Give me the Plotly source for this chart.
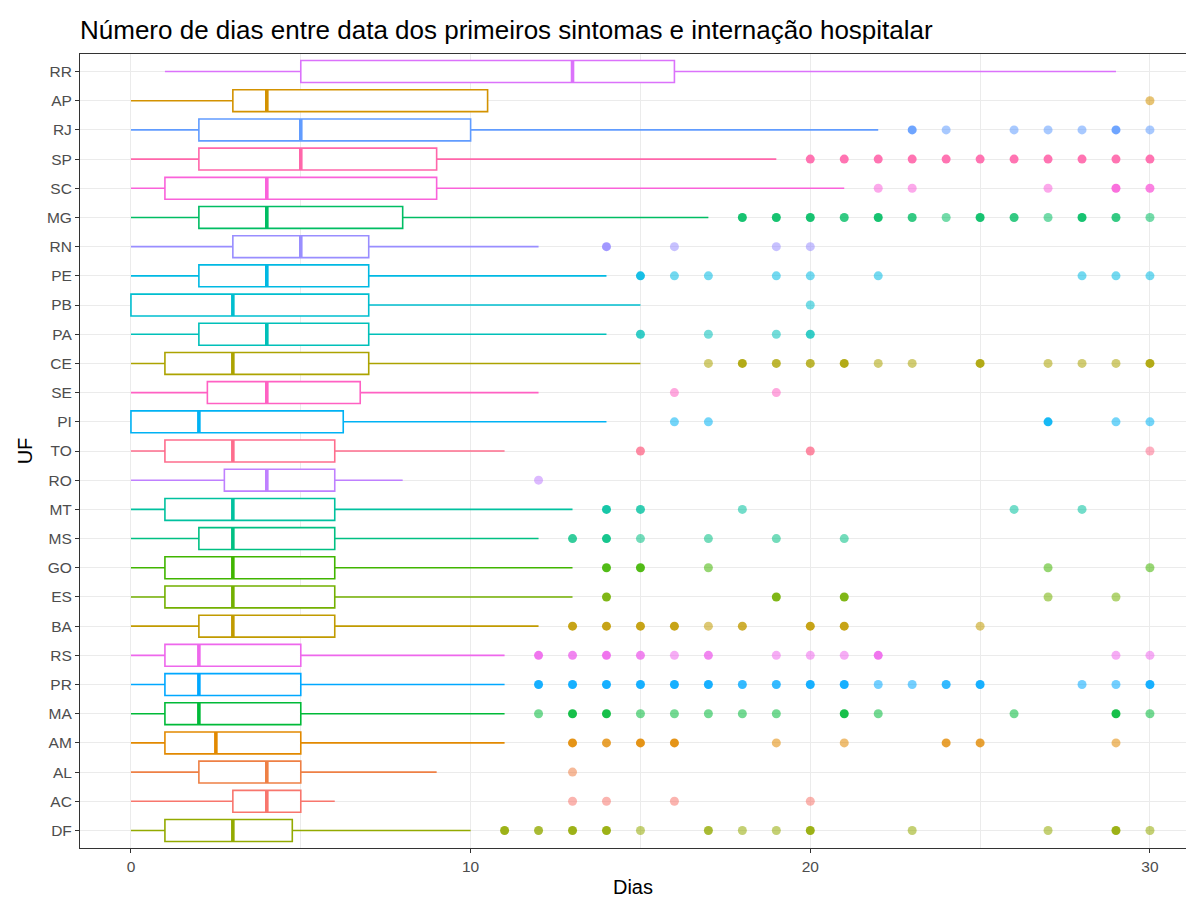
import numpy as np
import plotly.graph_objects as go

# Unidades federativas, de baixo para cima no eixo
UF = ["DF", "AC", "AL", "AM", "MA", "PR", "RS", "BA", "ES", "GO", "MS", "MT", "RO", "TO",
      "PI", "SE", "CE", "PA", "PB", "PE", "RN", "MG", "SC", "SP", "RJ", "AP", "RR"]

# Estatísticas dos boxplots (dias)
LIM_INF = [0, 0, 0, 0, 0, 0, 0, 0, 0, 0, 0, 0, 0, 0, 0, 0, 0, 0, 0, 0, 0, 0, 0, 0, 0, 0, 1]
Q1      = [1, 3, 2, 1, 1, 1, 1, 2, 1, 1, 2, 1, 2.75, 1, 0, 2.25, 1, 2, 0, 2, 3, 2, 1, 2, 2, 3, 5]
MEDIANA = [3, 4, 4, 2.5, 2, 2, 2, 3, 3, 3, 3, 3, 4, 3, 2, 4, 3, 4, 3, 4, 5, 4, 4, 5, 5, 4, 13]
Q3      = [4.75, 5, 5, 5, 5, 5, 5, 6, 6, 6, 6, 6, 6, 6, 6.25, 6.75, 7, 7, 7, 7, 7, 8, 9, 9, 10, 10.5, 16]
LIM_SUP = [10, 6, 9, 11, 11, 11, 11, 12, 13, 13, 12, 13, 8, 11, 14, 12, 15, 14, 15, 14, 12, 17, 21, 19, 22, 10.5, 29]

# Valores atípicos por UF e número de casos sobrepostos em cada valor
ATIPICOS = {
    "DF": [11, 12, 13, 14, 15, 17, 18, 19, 20, 23, 27, 29, 30],
    "AC": [13, 14, 16, 20],
    "AL": [13],
    "AM": [13, 14, 15, 16, 19, 21, 24, 25, 29],
    "MA": [12, 13, 14, 15, 16, 17, 18, 19, 21, 22, 26, 29, 30],
    "PR": [12, 13, 14, 15, 16, 17, 18, 19, 20, 21, 22, 23, 24, 25, 28, 29, 30],
    "RS": [12, 13, 14, 15, 16, 17, 19, 20, 21, 22, 29, 30],
    "BA": [13, 14, 15, 16, 17, 18, 20, 21, 25],
    "ES": [14, 19, 21, 27, 29],
    "GO": [14, 15, 17, 27, 30],
    "MS": [13, 14, 15, 17, 19, 21],
    "MT": [14, 15, 18, 26, 28],
    "RO": [12],
    "TO": [15, 20, 30],
    "PI": [16, 17, 27, 29, 30],
    "SE": [16, 19],
    "CE": [17, 18, 19, 20, 21, 22, 23, 25, 27, 28, 29, 30],
    "PA": [15, 17, 19, 20],
    "PB": [20],
    "PE": [15, 16, 17, 19, 20, 22, 28, 29, 30],
    "RN": [14, 16, 19, 20],
    "MG": [18, 19, 20, 21, 22, 23, 24, 25, 26, 27, 28, 29, 30],
    "SC": [22, 23, 27, 29, 30],
    "SP": [20, 21, 22, 23, 24, 25, 26, 27, 28, 29, 30],
    "RJ": [23, 24, 26, 27, 28, 29, 30],
    "AP": [30],
    "RR": [],
}
CASOS = {
    "DF": [3, 2, 3, 3, 1, 2, 1, 1, 3, 1, 1, 3, 1],
    "AC": [1, 1, 1, 1],
    "AL": [1],
    "AM": [3, 2, 3, 3, 1, 1, 2, 2, 1],
    "MA": [1, 3, 3, 1, 1, 1, 1, 1, 3, 1, 1, 3, 1],
    "PR": [3, 3, 3, 3, 3, 3, 2, 2, 3, 3, 1, 1, 2, 3, 1, 1, 3],
    "RS": [3, 2, 3, 2, 1, 2, 1, 1, 1, 3, 1, 1],
    "BA": [3, 3, 3, 3, 1, 2, 3, 3, 1],
    "ES": [3, 3, 3, 1, 1],
    "GO": [3, 3, 1, 1, 1],
    "MS": [2, 3, 1, 1, 1, 1],
    "MT": [3, 2, 1, 1, 1],
    "RO": [1],
    "TO": [2, 2, 1],
    "PI": [1, 1, 3, 1, 1],
    "SE": [1, 1],
    "CE": [1, 3, 2, 2, 3, 1, 1, 3, 1, 1, 1, 3],
    "PA": [2, 1, 1, 2],
    "PB": [1],
    "PE": [3, 1, 1, 1, 1, 1, 1, 1, 1],
    "RN": [3, 1, 1, 1],
    "MG": [3, 3, 3, 2, 3, 2, 1, 3, 2, 1, 3, 2, 1],
    "SC": [1, 1, 1, 3, 2],
    "SP": [3, 3, 3, 3, 3, 3, 3, 3, 3, 3, 3],
    "RJ": [3, 1, 1, 1, 1, 3, 1],
    "AP": [1],
    "RR": [],
}

X_TICKS = [0, 10, 20, 30]
TITULO = "Número de dias entre data dos primeiros sintomas e internação hospitalar"


def hcl_hex(h, c=100.0, l=65.0):
    """Polar LUV (HCL) -> sRGB hex, D65 white point."""
    xn, yn, zn = 95.047, 100.0, 108.883
    un = 4 * xn / (xn + 15 * yn + 3 * zn)
    vn = 9 * yn / (xn + 15 * yn + 3 * zn)
    hr = np.deg2rad(h)
    U, V = c * np.cos(hr), c * np.sin(hr)
    Y = yn * ((l + 16) / 116) ** 3 if l > 8 else yn * l / 903.3
    u = U / (13 * l) + un
    v = V / (13 * l) + vn
    X = 9.0 * Y * u / (4 * v)
    Z = -X / 3 - 5 * Y + 3 * Y / v
    M = np.array([[3.240479, -1.537150, -0.498535],
                  [-0.969256, 1.875992, 0.041556],
                  [0.055648, -0.204043, 1.057311]])
    lin = M @ (np.array([X, Y, Z]) / 100.0)

    def gam(t):
        return 12.92 * t if t <= 0.0031308 else 1.055 * t ** (1 / 2.4) - 0.055

    rgb = [min(max(gam(t), 0.0), 1.0) for t in lin]
    return "#%02X%02X%02X" % tuple(int(round(255 * t)) for t in rgb)


# Paleta de matizes igualmente espaçados, atribuída em ordem alfabética das UFs
niveis = sorted(UF)
matizes = np.linspace(15, 375, len(niveis) + 1)[:-1]
COR = {uf: hcl_hex(h % 360) for uf, h in zip(niveis, matizes)}

LARGURA_CAIXA = 0.75

fig = go.Figure()

for i, uf in enumerate(UF):
    cor = COR[uf]
    fig.add_trace(go.Box(
        y=[uf], q1=[Q1[i]], median=[MEDIANA[i]], q3=[Q3[i]],
        lowerfence=[LIM_INF[i]], upperfence=[LIM_SUP[i]],
        orientation="h", boxpoints=False, whiskerwidth=0, width=LARGURA_CAIXA,
        fillcolor="white", line=dict(color=cor, width=1.6),
        showlegend=False, hoverinfo="skip",
    ))

# Mediana destacada com traço mais espesso (o símbolo line-ns mede 1,4 x size)
for i, uf in enumerate(UF):
    fig.add_trace(go.Scatter(
        x=[MEDIANA[i]], y=[uf], mode="markers",
        marker=dict(symbol="line-ns", size=15.6, line=dict(color=COR[uf], width=3.6)),
        showlegend=False, hoverinfo="skip",
    ))

# Valores atípicos, com opacidade crescente onde há casos sobrepostos
for uf in UF:
    xs = ATIPICOS[uf]
    if not xs:
        continue
    n = np.array(CASOS[uf])
    fig.add_trace(go.Scatter(
        x=xs, y=[uf] * len(xs), mode="markers",
        marker=dict(color=COR[uf], size=9, opacity=list(1 - 0.45 ** n), line=dict(width=0)),
        showlegend=False, hoverinfo="skip",
    ))

fonte = "Liberation Sans, Arial, Helvetica, sans-serif"
px_dia = (1150 - 131) / 30.0
esq = 80
x0 = -1.5
x1 = x0 + (1186 - esq) / px_dia

fig.update_layout(
    width=1186, height=898,
    margin=dict(l=esq, r=0, t=54, b=50),
    paper_bgcolor="white", plot_bgcolor="white",
    boxmode="overlay",
    font=dict(family=fonte, color="#1A1A1A"),
    title=dict(text=TITULO, x=0, xref="paper", xanchor="left",
               y=1 - 30 / 898, yref="container", yanchor="middle",
               font=dict(size=26, color="#000000")),
    xaxis=dict(
        range=[x0, x1], tickvals=X_TICKS, ticktext=[str(v) for v in X_TICKS],
        showgrid=True, gridcolor="#EBEBEB", gridwidth=1.2, zeroline=False,
        minor=dict(tickvals=[5, 15, 25], showgrid=True, gridcolor="#EBEBEB", gridwidth=0.6, ticks=""),
        ticks="outside", ticklen=4, tickcolor="#333333", tickwidth=1.1,
        tickfont=dict(size=15.5, color="#4D4D4D"),
        showline=True, linecolor="#333333", linewidth=1.1, mirror=True,
        title=dict(text="Dias", font=dict(size=20, color="#000000"), standoff=6),
    ),
    yaxis=dict(
        type="category", categoryorder="array", categoryarray=UF,
        range=[-0.6, len(UF) - 0.4],
        showgrid=True, gridcolor="#EBEBEB", gridwidth=1.2, zeroline=False,
        ticks="outside", ticklen=4, tickcolor="#333333", tickwidth=1.1,
        tickfont=dict(size=15.5, color="#4D4D4D"),
        showline=True, linecolor="#333333", linewidth=1.1, mirror=True,
        title=dict(text="UF", font=dict(size=20, color="#000000"), standoff=8),
    ),
)

fig.write_html("out.html")
